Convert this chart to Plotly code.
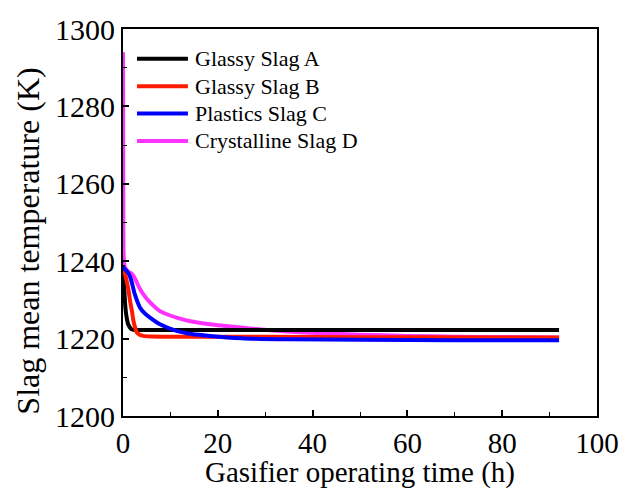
import plotly.graph_objects as go

# Slag mean temperature vs. gasifier operating time
time_a = [0, 0.2, 0.4, 0.7, 1.1, 1.5, 1.8, 2.5, 4, 10, 30, 60, 92]
temp_a = [1239.0, 1235.5, 1229.7, 1226.0, 1223.7, 1222.8, 1222.4, 1222.25, 1222.2, 1222.2, 1222.2, 1222.2, 1222.2]

time_b = [0, 0.4, 0.8, 1.2, 1.5, 1.9, 2.2, 2.6, 2.9, 3.5, 4.3, 6, 10, 20, 40, 60, 92]
temp_b = [1238.0, 1236.8, 1234.8, 1232.2, 1229.7, 1227.0, 1224.6, 1222.7, 1221.6, 1221.0, 1220.7, 1220.55, 1220.5, 1220.5, 1220.4, 1220.35, 1220.3]

time_c = [0, 0.5, 1.2, 1.8, 2.5, 3.6, 4.6, 5.7, 7.8, 11.3, 14.5, 18.3, 25, 35, 50, 70, 92]
temp_c = [1238.5, 1237.8, 1236.8, 1234.8, 1231.4, 1228.0, 1226.5, 1225.4, 1223.7, 1222.0, 1221.2, 1220.7, 1220.1, 1219.8, 1219.7, 1219.6, 1219.6]

time_d = [0, 0.05, 0.15, 0.4, 1.1, 1.8, 2.5, 3.3, 4.3, 5.5, 7.8, 11.3, 14.5, 18.3, 25.3, 32.4, 39.4, 50, 60, 70, 80, 92]
temp_d = [1294.0, 1262.0, 1241.0, 1238.5, 1237.3, 1236.8, 1235.6, 1233.5, 1231.4, 1229.6, 1227.1, 1225.4, 1224.4, 1223.7, 1222.8, 1222.0, 1221.5, 1221.0, 1220.7, 1220.5, 1220.4, 1220.3]

names = ["Glassy Slag A", "Glassy Slag B", "Plastics Slag C", "Crystalline Slag D"]
colors = ["#000000", "#ff1a00", "#0000ff", "#ff33ff"]
series = [(time_a, temp_a), (time_b, temp_b), (time_c, temp_c), (time_d, temp_d)]

font_family = "Liberation Serif, Times New Roman, serif"
line_w = 4

fig = go.Figure()
# D first so the other curves sit on top where they overlap
for i in [3, 0, 1, 2]:
    t, v = series[i]
    fig.add_trace(go.Scatter(
        x=t, y=v, mode="lines", name=names[i], showlegend=False,
        line=dict(color=colors[i], width=line_w, shape="spline", smoothing=0.6),
    ))

# hand-drawn legend in the upper-left of the plot area
leg_x0, leg_x1, leg_tx = 0.0295, 0.137, 0.148
leg_y0, leg_dy = 0.923, 0.0707
for i, name in enumerate(names):
    yy = leg_y0 - i * leg_dy
    fig.add_shape(type="line", xref="paper", yref="paper",
                  x0=leg_x0, x1=leg_x1, y0=yy, y1=yy,
                  line=dict(color=colors[i], width=line_w))
    fig.add_annotation(xref="paper", yref="paper", x=leg_tx, y=yy,
                       xanchor="left", yanchor="middle", showarrow=False,
                       text=name, font=dict(family=font_family, size=22, color="black"))

# axis titles
fig.add_annotation(xref="paper", yref="paper", x=0.5, y=-0.1918,
                   xanchor="center", yanchor="bottom", showarrow=False,
                   text="Gasifier operating time (h)", borderpad=0,
                   font=dict(family=font_family, size=29, color="black"))
fig.add_annotation(xref="paper", yref="paper", x=-0.2, y=0.451,
                   xanchor="center", yanchor="middle", showarrow=False, textangle=-90,
                   text="Slag mean temperature (K)",
                   font=dict(family=font_family, size=32, color="black"))

axis_common = dict(
    showline=True, linecolor="black", linewidth=2, mirror=True,
    ticks="inside", ticklen=6, tickwidth=1.5, tickcolor="black",
    showgrid=False, zeroline=False,
    minor=dict(ticks="inside", ticklen=4, tickwidth=1.2, tickcolor="black"),
)

fig.update_layout(
    width=635, height=491,
    margin=dict(l=123, r=38, t=25, b=75),
    paper_bgcolor="white", plot_bgcolor="white",
    font=dict(family=font_family, color="black"),
    showlegend=False,
    xaxis=dict(range=[0, 100], dtick=20, tick0=0,
               tickfont=dict(family=font_family, size=29, color="black"), **axis_common),
    yaxis=dict(range=[1200, 1300], dtick=20, tick0=1200,
               tickfont=dict(family=font_family, size=30, color="black"), **axis_common),
)
fig.update_xaxes(minor_dtick=10)
fig.update_yaxes(minor_dtick=10)

fig.write_html("out.html")
